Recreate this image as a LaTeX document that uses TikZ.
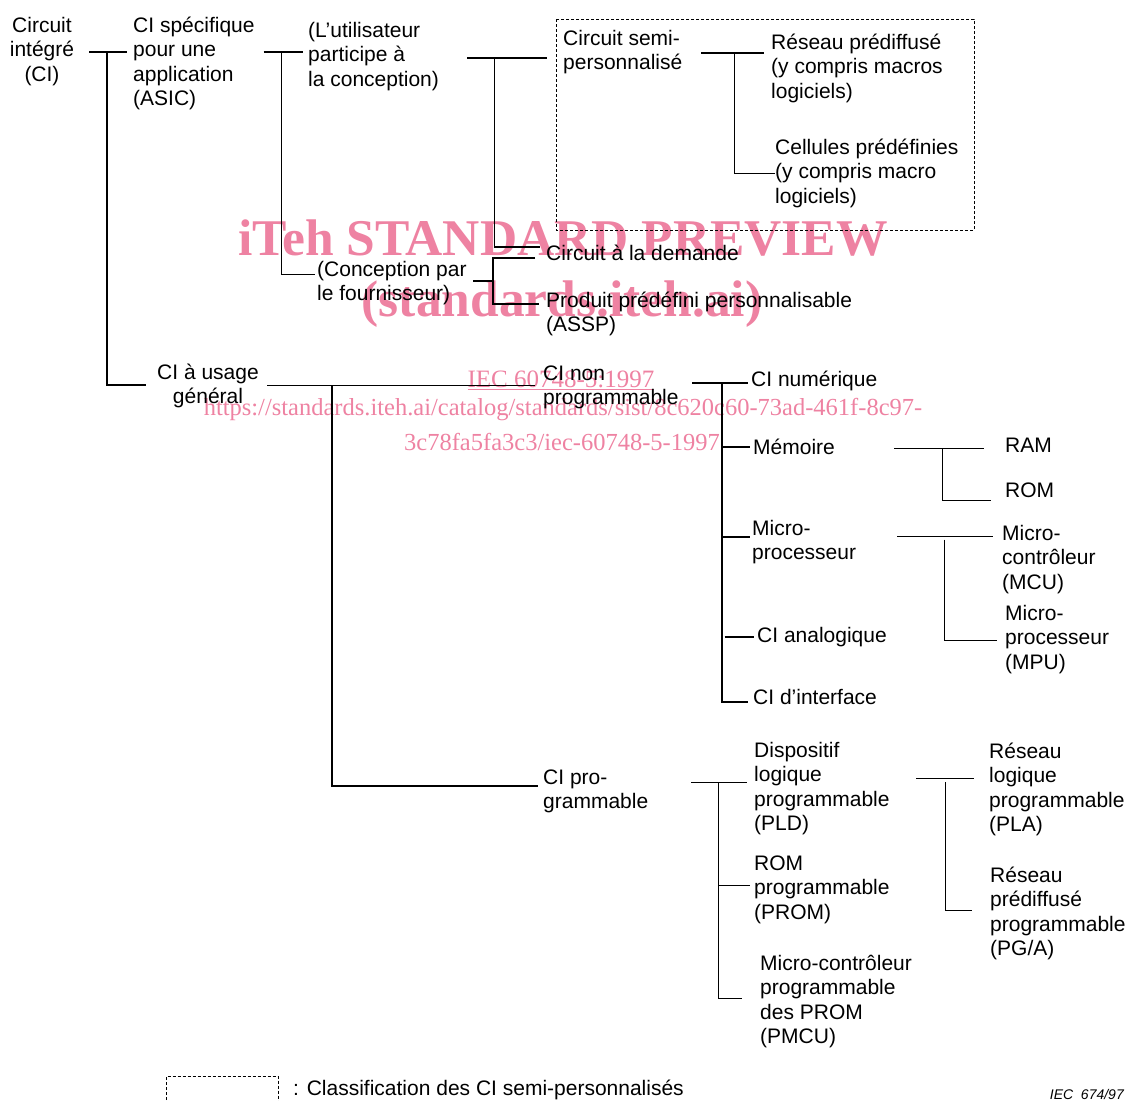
\documentclass[tikz,border=0pt]{standalone}
\usepackage{fontspec}
\setmainfont{Liberation Sans}
\newfontfamily\wmfont{Liberation Serif}
\usetikzlibrary{calc}
\definecolor{pinkish}{RGB}{238,130,162}

\begin{document}
\begin{tikzpicture}[
  x=1pt,
  y=-1pt,
  txt/.style={
    draw=none,
    fill=none,
    inner sep=0pt,
    align=left,
    anchor=base west,
    font=\fontsize{21}{24.6}\selectfont
  },
  ctxt/.style={
    txt,
    align=center,
    anchor=base
  },
  link/.style={
    draw,
    line width=1.6pt
  },
  sublink/.style={
    draw,
    line width=0.9pt
  },
  semibox/.style={
    draw,
    dash pattern=on 3pt off 2pt,
    line width=0.8pt
  },
  stamp/.style={
    text=pinkish,
    inner sep=0pt,
    anchor=base
  }
]
\useasboundingbox (0,0) rectangle (1126,1100);

% Watermark
\node[stamp,font=\wmfont\bfseries\fontsize{51.5}{52}\selectfont] (wm1) at (563,255) {iTeh STANDARD PREVIEW};
\node[stamp,font=\wmfont\bfseries\fontsize{51.5}{52}\selectfont] (wm2) at (562,316) {(standards.iteh.ai)};
\node[stamp,font=\wmfont\fontsize{25}{25}\selectfont] (wm3) at (561,387) {\underline{IEC 60748-5:1997}};
\node[stamp,font=\wmfont\fontsize{24.5}{25}\selectfont] (wm4) at (563,415)
  {https://standards.iteh.ai/catalog/standards/sist/8c620c60-73ad-461f-8c97-};
\node[stamp,font=\wmfont\fontsize{24.5}{25}\selectfont] (wm5) at (562,450)
  {3c78fa5fa3c3/iec-60748-5-1997};

% Semi-custom frame
\draw[semibox] (556,19) rectangle (974,230);

% Texts (y = baseline of the last line)
\node[ctxt] (ci) at (42,81.2) {Circuit\\intégré\\(CI)};
\node[txt] (asic) at (133,105.8) {CI spécifique\\pour une\\application\\(ASIC)};
\node[txt] (user) at (308,86.2) {(L’utilisateur\\participe à\\la conception)};
\node[txt] (semi) at (563,69.6) {Circuit semi-\\personnalisé};
\node[txt] (gate) at (771,98.2) {Réseau prédiffusé\\(y compris macros\\logiciels)};
\node[txt] (cell) at (775,203.2) {Cellules prédéfinies\\(y compris macro\\logiciels)};
\node[txt] (custom) at (546,260) {Circuit à la demande};
\node[txt] (vendor) at (317,300.6) {(Conception par\\le fournisseur)};
\node[txt] (assp) at (546,331.6) {Produit prédéfini personnalisable\\(ASSP)};
\node[ctxt] (std) at (208,403.6) {CI à usage\\général};
\node[txt] (nonprog) at (543,404.6) {CI non\\programmable};
\node[txt] (digital) at (751,386) {CI numérique};
\node[txt] (mem) at (753,454) {Mémoire};
\node[txt] (ram) at (1005,452) {RAM};
\node[txt] (rom) at (1005,497) {ROM};
\node[txt] (micro) at (752,559.6) {Micro-\\processeur};
\node[txt] (mcu) at (1002,589.2) {Micro-\\contrôleur\\(MCU)};
\node[txt] (mpu) at (1005,669.2) {Micro-\\processeur\\(MPU)};
\node[txt] (analog) at (757,642) {CI analogique};
\node[txt] (iface) at (753,704) {CI d’interface};
\node[txt] (prog) at (543,808.6) {CI pro-\\grammable};
\node[txt] (pld) at (754,830.8) {Dispositif\\logique\\programmable\\(PLD)};
\node[txt] (prom) at (754,919.2) {ROM\\programmable\\(PROM)};
\node[txt] (pmcu) at (760,1043.8) {Micro-contrôleur\\programmable\\des PROM\\(PMCU)};
\node[txt] (pla) at (989,831.8) {Réseau\\logique\\programmable\\(PLA)};
\node[txt] (pga) at (990,955.8) {Réseau\\prédiffusé\\programmable\\(PG/A)};

% Legend
\draw[semibox] (166.5,1110) |- (278,1076) -- (278,1110);
\node[txt] (legend) at (293,1095) {: Classification des CI semi-personnalisés};
\node[inner sep=0pt,anchor=base east,font=\itshape\fontsize{14}{16}\selectfont] (fig) at (1124,1099) {IEC~~674/97};

% Junctions
\coordinate (ci-o) at (89,52);
\coordinate (ci-j) at (107,52);
\coordinate (asic-i) at (127,52);
\coordinate (std-i) at (146,385);
\coordinate (asic-o) at (263.5,52);
\coordinate (asic-j) at (281.5,52);
\coordinate (user-i) at (303,52);
\coordinate (vendor-i) at (315,274.5);
\coordinate (user-o) at (467,58);
\coordinate (user-j) at (494.5,58);
\coordinate (semi-i) at (547,58);
\coordinate (custom-i) at (540,247);
\coordinate (vendor-o) at (473,281);
\coordinate (vendor-j) at (493,281);
\coordinate (custom-i2) at (535,258);
\coordinate (assp-i) at (539,304);
\coordinate (semi-o) at (701,53);
\coordinate (semi-j) at (734,53);
\coordinate (gate-i) at (763.5,53);
\coordinate (cell-i) at (775,173);
\coordinate (std-o) at (267,385.5);
\coordinate (std-j) at (332,385.5);
\coordinate (nonprog-i) at (535,385.5);
\coordinate (prog-i) at (538,786);
\coordinate (nonprog-o) at (692,383);
\coordinate (nonprog-j) at (721.7,383);
\coordinate (digital-i) at (748,383);
\coordinate (mem-i) at (750,447);
\coordinate (micro-i) at (750,537);
\coordinate (analog-i) at (754,637);
\coordinate (iface-i) at (748,702);
\coordinate (mem-o) at (894,448.3);
\coordinate (mem-j) at (942.7,448.3);
\coordinate (ram-i) at (984,448.3);
\coordinate (rom-i) at (990.7,500);
\coordinate (micro-o) at (897,536.7);
\coordinate (micro-j) at (944,536.7);
\coordinate (mcu-i) at (993,536.7);
\coordinate (mpu-i) at (996.7,640);
\coordinate (prog-o) at (691,782.3);
\coordinate (prog-j) at (718,782.3);
\coordinate (pld-i) at (747,782.3);
\coordinate (prom-i) at (750,885);
\coordinate (pmcu-i) at (741.5,998);
\coordinate (pld-o) at (916,778.3);
\coordinate (pld-j) at (945,778.3);
\coordinate (pla-i) at (974,778.3);
\coordinate (pga-i) at (972,910.7);

% Links 1
\draw[link] (ci-o) -- (asic-i);
\draw[link] (ci-j) |- (std-i);

% Links 2
\draw[link] (asic-o) -- (user-i);
\draw[link] (asic-j) |- (vendor-i);

% Links 3
\draw[link] (user-o) -- (semi-i);
\draw[link] (user-j) |- (custom-i);
\draw[link] (vendor-o) -- (vendor-j);
\draw[link] (custom-i2) -| (vendor-j |- assp-i) -- (assp-i);

% Links 4
\draw[link] (semi-o) -- (gate-i);
\draw[sublink] (semi-j) |- (cell-i);

% Links 5
\draw[link] (std-o) -- (nonprog-i);
\draw[link] (std-j) |- (prog-i);

% Links 6
\draw[link] (nonprog-o) -- (digital-i);
\draw[link] (nonprog-j) |- (iface-i);
\draw[link] (nonprog-j |- mem-i) -- (mem-i);
\draw[link] (nonprog-j |- micro-i) -- (micro-i);
\draw[link] ($(nonprog-j |- analog-i)+(3,0)$) -- (analog-i);

% Links 7
\draw[sublink] (mem-o) -- (ram-i);
\draw[sublink] (mem-j) |- (rom-i);
\draw[sublink] (micro-o) -- (mcu-i);
\draw[sublink] ($(micro-j)+(0,3)$) |- (mpu-i);

% Links 8
\draw[link] (prog-o) -- (pld-i);
\draw[sublink] (prog-j) |- (pmcu-i);
\draw[sublink] (prog-j |- prom-i) -- (prom-i);
\draw[link] (pld-o) -- (pla-i);
\draw[sublink] ($(pld-j)+(0,4)$) |- (pga-i);

\end{tikzpicture}
\end{document}
